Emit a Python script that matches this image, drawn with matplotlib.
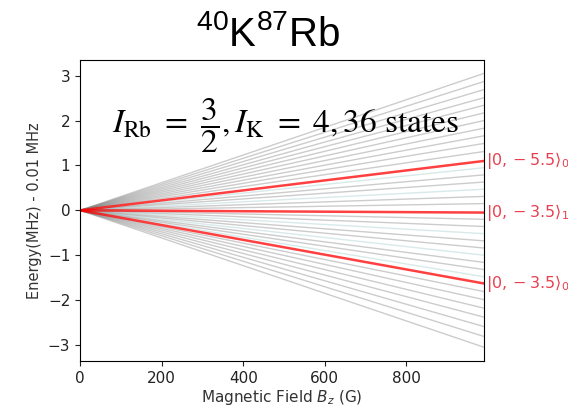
import numpy as np
import matplotlib.pyplot as plt
from matplotlib import rcParams

rcParams['mathtext.rm'] = 'Liberation Sans'
rcParams['mathtext.it'] = 'Liberation Sans:italic'

# field range (G)
field = [0, 990]

# energy at the top of the field range for each of the 36 states (MHz - 0.01 MHz)
end_energy = [3.05, 2.87, 2.69, 2.51, 2.34, 2.17, 2.00, 1.83, 1.66, 1.49, 1.31, 1.10,
              0.95, 0.79, 0.63, 0.47, 0.31, 0.15, -0.05, -0.20, -0.36, -0.52, -0.68,
              -0.84, -1.00, -1.16, -1.32, -1.48, -1.63, -1.81, -1.99, -2.18, -2.38,
              -2.59, -2.81, -3.05]

# highlighted states: index into end_energy, label
marked = [11, 18, 28]
marked_labels = [r'$|0,-5.5\rangle_0$', r'$|0,-3.5\rangle_1$', r'$|0,-3.5\rangle_0$']

fig = plt.figure(figsize=(5.68, 4.12), dpi=100)
ax = fig.add_axes([0.141, 0.124, 0.711, 0.731])

for i, e in enumerate(end_energy):
    if i in marked:
        continue
    col = '#9ec9c9' if 12 <= i <= 27 and i % 3 == 0 else 'gray'
    ax.plot(field, [0, e], color=col, lw=1.0, alpha=0.4)

for i, lab in zip(marked, marked_labels):
    ax.plot(field, [0, end_energy[i]], color='red', lw=1.8, alpha=0.75)
    ax.text(field[1] + 5, end_energy[i], lab, color='#e8404f', fontsize=11.5,
            ha='left', va='center', clip_on=False, math_fontfamily='dejavusans')

ax.set_xlim(field[0], field[1])
ax.margins(x=0)
ax.set_xticks([0, 200, 400, 600, 800])
ax.set_yticks([-3, -2, -1, 0, 1, 2, 3])
ax.tick_params(labelsize=11, colors='#222222')
ax.set_xlabel(r'Magnetic Field $B_z$ (G)', fontsize=11, color='#333333',
              math_fontfamily='dejavusans', labelpad=2)
ax.set_ylabel('Energy(MHz) - 0.01 MHz', fontsize=10.5, color='#333333')

ax.text(0.079, 0.757, r'$I_{\rm Rb}\ =\ \dfrac{3}{2},I_{\rm K}\ =\ 4,36\ \mathrm{states}$',
        transform=ax.transAxes, fontsize=24, ha='left', va='baseline',
        math_fontfamily='stix')

fig.text(0.472, 0.888, r'$^{40}$K$^{87}$Rb', family='Liberation Sans', fontsize=29,
         ha='center', va='baseline', math_fontfamily='custom')

plt.savefig('out.png', dpi=100)
